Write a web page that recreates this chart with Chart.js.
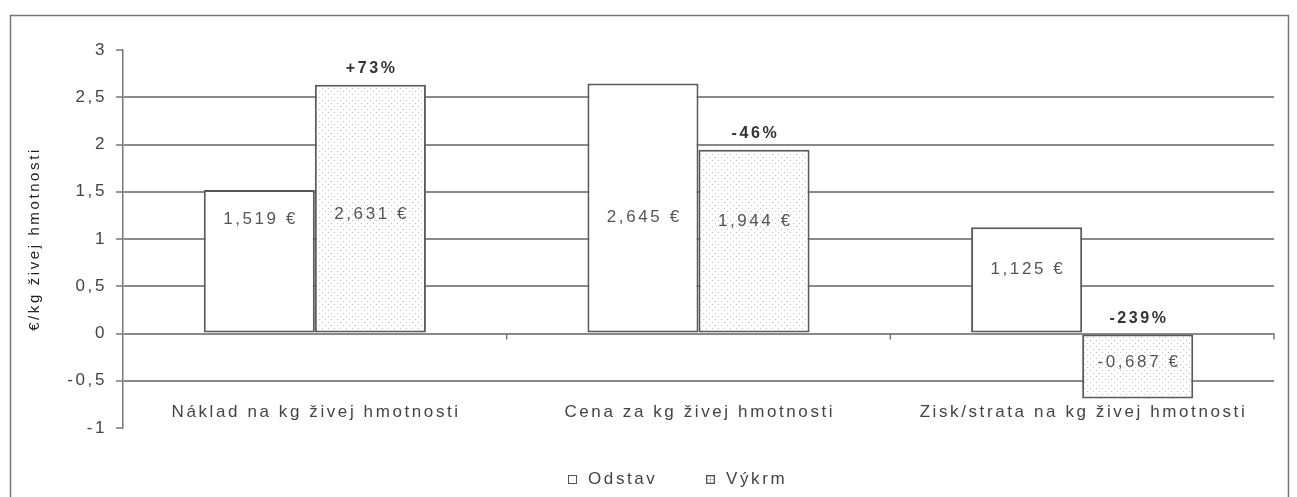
<!DOCTYPE html>
<html><head><meta charset="utf-8">
<script src="https://cdn.jsdelivr.net/npm/chart.js@4"></script>
<style>
html,body{margin:0;padding:0;background:#fff;}
#wrap{position:relative;width:1297px;height:497px;overflow:hidden;}
#c{position:absolute;left:0;top:0;}
.item{position:absolute;top:469px;font:17px "Liberation Sans",Arial,sans-serif;letter-spacing:2.6px;color:#444;white-space:nowrap;display:flex;align-items:center;height:20px;}
.box{box-sizing:border-box;display:inline-block;width:9px;height:9px;border:1.5px solid #555;margin-right:11px;background:#fff;}
.box.dot{background:#fff radial-gradient(circle,#999 0.8px,transparent 1.2px) center/3px 3px;}
</style></head>
<body><div id="wrap"><canvas id="c"></canvas>
<div class="item" id="lg0" style="left:568px"><span class="box"></span><span class="t"></span></div>
<div class="item" id="lg1" style="left:706px"><span class="box dot"></span><span class="t"></span></div>
</div>
<script>
const categories = ['Náklad na kg živej hmotnosti', 'Cena za kg živej hmotnosti', 'Zisk/strata na kg živej hmotnosti'];
const seriesNames = ['Odstav', 'Výkrm'];
const odstav = [1.519, 2.645, 1.125];
const vykrm = [2.631, 1.944, -0.687];
const changeLabels = ['+73%', '-46%', '-239%'];
const yTickLabels = ['-1', '-0,5', '0', '0,5', '1', '1,5', '2', '2,5', '3'];
const yTitle = '€/kg živej hmotnosti';

// label anchor heights (layout only, in axis units)
const VALUE_LABEL_AT = [[1.21, 1.23, 0.68], [1.26, 1.19, -0.31]];

document.querySelector('#lg0 .t').textContent = seriesNames[0];
document.querySelector('#lg1 .t').textContent = seriesNames[1];

const FAMILY = '"Liberation Sans", Arial, sans-serif';
const LS = '2.6px';
const canvas = document.getElementById('c');
canvas.width = 1297; canvas.height = 497;
canvas.style.width = '1297px'; canvas.style.height = '497px';
const mainCtx = canvas.getContext('2d');

function makePattern() {
  const p = document.createElement('canvas');
  p.width = 6; p.height = 6;
  const g = p.getContext('2d');
  g.fillStyle = '#fff'; g.fillRect(0, 0, 6, 6);
  g.fillStyle = '#c0c0c0';
  g.fillRect(1, 1, 1, 1);
  g.fillRect(4, 4, 1, 1);
  return mainCtx.createPattern(p, 'repeat');
}
const dotted = makePattern();

function fmt(v) { return v.toFixed(3).replace('.', ',') + ' €'; }

const helper = {
  id: 'helper',
  beforeUpdate(chart) { chart.ctx.letterSpacing = LS; },
  beforeDraw(chart) {
    const ctx = chart.ctx;
    ctx.letterSpacing = LS;
    ctx.save();
    ctx.strokeStyle = '#777';
    ctx.lineWidth = 1.5;
    ctx.strokeRect(10.5, 15.5, 1278, 600);
    ctx.restore();
  },
  afterDatasetsDraw(chart) {
    const ctx = chart.ctx;
    const x = chart.scales.x, y = chart.scales.y;
    const area = chart.chartArea;
    ctx.save();
    // zero line tick marks at category boundaries
    const y0 = y.getPixelForValue(0);
    const half = (x.getPixelForValue(1) - x.getPixelForValue(0)) / 2;
    ctx.strokeStyle = '#777';
    ctx.lineWidth = 1.5;
    for (let i = 0; i < categories.length; i++) {
      const xb = x.getPixelForValue(i) + half;
      ctx.beginPath(); ctx.moveTo(xb, y0); ctx.lineTo(xb, y0 + 6); ctx.stroke();
    }
    ctx.textAlign = 'center';
    ctx.textBaseline = 'middle';
    // category labels (low position, inside plot)
    ctx.font = '17px ' + FAMILY;
    ctx.fillStyle = '#444';
    categories.forEach((c, i) => {
      ctx.fillText(x.getLabelForValue(i), x.getPixelForValue(i) + 1.3, area.bottom - 16);
    });
    // value labels
    ctx.font = '17px ' + FAMILY;
    ctx.fillStyle = '#555';
    [odstav, vykrm].forEach((arr, di) => {
      chart.getDatasetMeta(di).data.forEach((bar, i) => {
        ctx.fillText(fmt(arr[i]), bar.x + 1.3, y.getPixelForValue(VALUE_LABEL_AT[di][i]));
      });
    });
    // change labels
    ctx.font = 'bold 16px ' + FAMILY;
    ctx.fillStyle = '#333';
    chart.getDatasetMeta(1).data.forEach((bar, i) => {
      const top = Math.min(bar.y, bar.base);
      ctx.fillText(changeLabels[i], bar.x + 1.3, top - 16);
    });
    ctx.restore();
  }
};

new Chart(mainCtx, {
  type: 'bar',
  data: {
    labels: categories,
    datasets: [
      { label: seriesNames[0], data: odstav, backgroundColor: '#fff', borderColor: '#5a5a5a', borderWidth: 2, borderSkipped: false, categoryPercentage: 0.579, barPercentage: 1 },
      { label: seriesNames[1], data: vykrm, backgroundColor: dotted, borderColor: '#5a5a5a', borderWidth: 2, borderSkipped: false, categoryPercentage: 0.579, barPercentage: 1 }
    ]
  },
  options: {
    responsive: false,
    animation: false,
    layout: { padding: { left: 0, right: 23, top: 50, bottom: 37 } },
    plugins: { legend: { display: false }, tooltip: { enabled: false } },
    scales: {
      x: {
        afterFit(s) { s.height = 32; },
        grid: { display: false, drawTicks: false },
        border: { display: false },
        ticks: { display: false, autoSkip: false, maxRotation: 0 }
      },
      y: {
        min: -1, max: 3,
        afterFit(s) { s.width = 123; },
        ticks: { stepSize: 0.5, padding: 9, color: '#444', font: { family: FAMILY, size: 17 }, callback: (v, i) => yTickLabels[i] },
        grid: {
          color: c => (c.tick && (c.tick.value === 3 || c.tick.value === -1)) ? 'rgba(0,0,0,0)' : '#8a8a8a',
          lineWidth: 2, tickLength: 7, tickColor: '#777', tickWidth: 1.5
        },
        border: { display: true, color: '#777', width: 1.5 },
        title: { display: true, text: yTitle, color: '#222', font: { family: FAMILY, size: 15 }, padding: { top: 26, bottom: 0 } }
      }
    }
  },
  plugins: [helper]
});
</script>
</body></html>
